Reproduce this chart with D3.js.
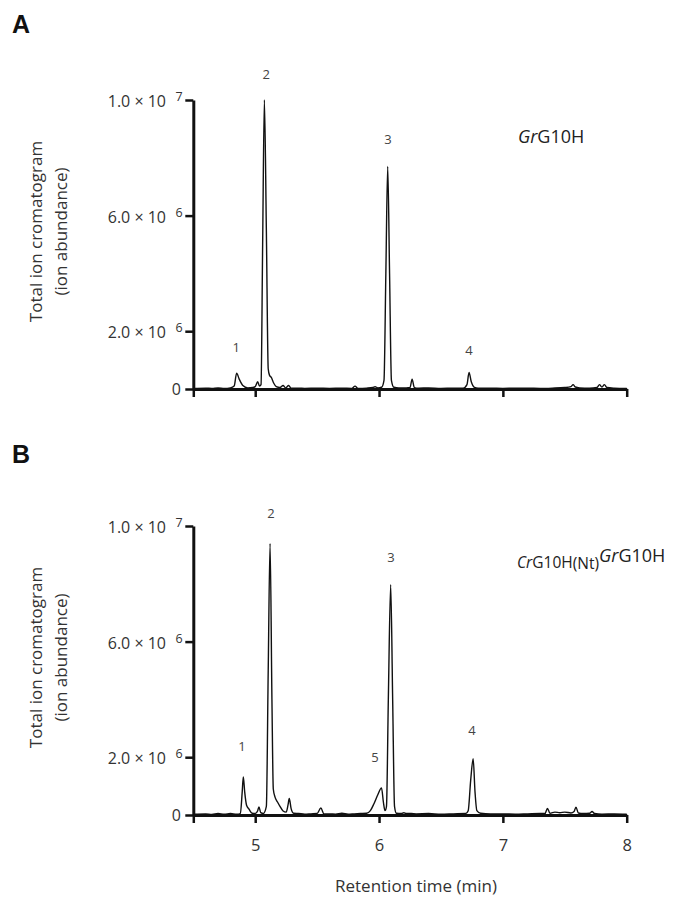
<!DOCTYPE html>
<html><head><meta charset="utf-8">
<script src="https://cdn.jsdelivr.net/npm/d3@7"></script>
<style>body{margin:0;background:#fff}svg{display:block}</style>
</head><body>
<script>
// ---- Data (abundance in units of 10^6) ----
const timeA = [4.50,4.60,4.65,4.70,4.75,4.80,4.83,4.85,4.87,4.90,4.94,4.98,5.00,5.02,5.035,5.047,5.06,5.074,5.09,5.105,5.115,5.13,5.15,5.17,5.20,5.225,5.245,5.27,5.29,5.35,5.40,5.50,5.60,5.70,5.78,5.806,5.83,5.90,5.95,5.968,5.99,6.02,6.04,6.055,6.070,6.085,6.10,6.12,6.16,6.22,6.25,6.267,6.285,6.32,6.40,6.50,6.60,6.68,6.71,6.727,6.745,6.77,6.80,6.90,7.00,7.10,7.20,7.30,7.40,7.50,7.55,7.567,7.585,7.62,7.70,7.76,7.78,7.80,7.82,7.84,7.90,8.00];
const abundA = [0.02,0.03,0.02,0.04,0.02,0.04,0.10,0.55,0.35,0.12,0.04,0.05,0.08,0.25,0.10,0.15,5.0,10.0,5.5,0.70,0.48,0.40,0.20,0.08,0.05,0.12,0.04,0.12,0.03,0.03,0.02,0.03,0.02,0.03,0.02,0.10,0.02,0.03,0.05,0.08,0.04,0.06,0.30,4.0,7.7,4.0,0.30,0.06,0.04,0.04,0.05,0.34,0.05,0.03,0.04,0.02,0.03,0.03,0.15,0.57,0.25,0.06,0.03,0.03,0.02,0.03,0.03,0.02,0.03,0.05,0.08,0.15,0.07,0.04,0.03,0.05,0.15,0.07,0.15,0.05,0.03,0.02];
const timeB = [4.50,4.60,4.65,4.70,4.75,4.80,4.85,4.88,4.895,4.904,4.915,4.93,4.95,4.975,5.00,5.02,5.03,5.045,5.065,5.09,5.105,5.12,5.135,5.146,5.16,5.18,5.20,5.225,5.25,5.265,5.275,5.29,5.31,5.35,5.40,5.45,5.50,5.53,5.555,5.60,5.65,5.70,5.75,5.80,5.85,5.90,5.93,5.96,5.99,6.02,6.035,6.048,6.06,6.075,6.094,6.11,6.125,6.14,6.18,6.20,6.22,6.26,6.30,6.40,6.50,6.60,6.70,6.72,6.74,6.76,6.775,6.79,6.82,6.90,7.00,7.10,7.20,7.30,7.34,7.36,7.38,7.42,7.46,7.50,7.55,7.575,7.59,7.61,7.65,7.70,7.72,7.74,7.80,7.90,8.00];
const abundB = [0.03,0.04,0.02,0.05,0.03,0.05,0.03,0.05,0.8,1.32,0.8,0.34,0.20,0.06,0.05,0.15,0.28,0.08,0.05,0.3,5.0,9.39,4.0,0.9,0.62,0.45,0.30,0.14,0.10,0.35,0.57,0.22,0.06,0.05,0.03,0.04,0.05,0.24,0.04,0.04,0.03,0.06,0.03,0.04,0.05,0.06,0.15,0.40,0.70,0.94,0.45,0.15,0.3,4.0,7.97,4.0,0.3,0.06,0.05,0.08,0.05,0.05,0.04,0.05,0.03,0.04,0.05,0.15,1.2,1.95,0.8,0.15,0.06,0.04,0.04,0.03,0.04,0.05,0.05,0.23,0.06,0.10,0.08,0.10,0.07,0.12,0.27,0.07,0.05,0.06,0.12,0.05,0.03,0.04,0.03];

const xTicks = [4.5, 5, 6, 7, 8];
const xTickLabels = ["", "5", "6", "7", "8"];
const yTicks = [0, 2e6, 6e6, 1e7];
const yMantissa = ["0", "2.0", "6.0", "1.0"];
const yExponent = ["", "6", "6", "7"];

const peakNumsA = ["1", "2", "3", "4"];
const peakTimeA = [4.846, 5.088, 6.073, 6.727];
const peakLabelValA = [1.29e6, 10.74e6, 8.49e6, 1.16e6];
const peakNumsB = ["1", "2", "5", "3", "4"];
const peakTimeB = [4.893, 5.128, 5.967, 6.097, 6.751];
const peakLabelValB = [2.23e6, 10.29e6, 1.85e6, 8.77e6, 2.78e6];

const xTitle = "Retention time (min)";
const yTitle1 = "Total ion cromatogram";
const yTitle2 = "(ion abundance)";

// ---- Layout ----
const W = 675, H = 904;
const FONT = "'Open Sans', 'DejaVu Sans', sans-serif";
const svg = d3.select("body").append("svg").attr("width", W).attr("height", H)
  .style("font-family", FONT);

const x = d3.scaleLinear().domain([4.5, 8]).range([193.3, 626.7]);

const panels = [
  {letter: "A", letterY: 33, top: 100, bottom: 389, time: timeA, abund: abundA,
   nums: peakNumsA, pt: peakTimeA, pv: peakLabelValA, showX: false},
  {letter: "B", letterY: 463, top: 526, bottom: 815, time: timeB, abund: abundB,
   nums: peakNumsB, pt: peakTimeB, pv: peakLabelValB, showX: true}
];

panels.forEach((p, pi) => {
  const y = d3.scaleLinear().domain([0, 1e7]).range([p.bottom, p.top]);
  const g = svg.append("g");

  // panel letter
  g.append("text").attr("x", 12).attr("y", p.letterY).text(p.letter)
    .attr("font-size", 25).attr("font-weight", "bold").attr("fill", "#111")
    .style("font-family", "'Liberation Sans', Arial, sans-serif");

  // trace
  const pts = p.time.map((t, i) => [t, p.abund[i] * 1e6]);
  g.append("path").datum(pts)
    .attr("d", d3.line().x(d => x(d[0])).y(d => y(d[1])).curve(d3.curveMonotoneX))
    .attr("fill", "none").attr("stroke", "#111").attr("stroke-width", 1.4)
    .attr("stroke-linejoin", "round");

  // y axis
  const ya = g.append("g").attr("transform", `translate(${x(4.5)},0)`)
    .call(d3.axisLeft(y).tickValues(yTicks).tickSize(8).tickSizeOuter(0).tickFormat(""));
  ya.select(".domain").attr("stroke", "#111").attr("stroke-width", 3);
  ya.selectAll(".tick line").attr("stroke", "#111").attr("stroke-width", 2.5);

  // x axis
  const xa = g.append("g").attr("transform", `translate(0,${p.bottom})`)
    .call(d3.axisBottom(x).tickValues(xTicks).tickSize(8).tickSizeOuter(0)
      .tickFormat((d, i) => p.showX ? xTickLabels[i] : ""));
  xa.select(".domain").attr("stroke", "#111").attr("stroke-width", 3);
  xa.selectAll(".tick line").attr("stroke", "#111").attr("stroke-width", 2.5);
  xa.selectAll(".tick text").attr("font-size", 16.5).attr("fill", "#333")
    .attr("font-family", FONT).attr("dy", "1.5em");

  // y tick labels with superscript exponents
  yTicks.forEach((v, i) => {
    const yy = y(v);
    if (yExponent[i] === "") {
      g.append("text").attr("x", 181).attr("y", yy + 5.5).attr("text-anchor", "end")
        .attr("font-size", 16).attr("fill", "#333").text(yMantissa[i]);
    } else {
      g.append("text").attr("x", 166).attr("y", yy + 7).attr("text-anchor", "end")
        .attr("font-size", 16).attr("fill", "#333").text(yMantissa[i] + " × 10");
      g.append("text").attr("x", 175.5).attr("y", yy + 1)
        .attr("font-size", 12.5).attr("fill", "#333").text(yExponent[i]);
    }
  });

  // y title
  const cy = (p.top + p.bottom) / 2 - 13;
  g.append("text").attr("transform", `translate(42,${cy}) rotate(-90)`)
    .attr("text-anchor", "middle").attr("font-size", 17).attr("fill", "#333").text(yTitle1);
  g.append("text").attr("transform", `translate(67,${cy}) rotate(-90)`)
    .attr("text-anchor", "middle").attr("font-size", 17).attr("fill", "#333").text(yTitle2);

  // peak numbers
  p.nums.forEach((n, i) => {
    g.append("text").attr("x", x(p.pt[i])).attr("y", y(p.pv[i]))
      .attr("text-anchor", "middle").attr("font-size", 13).attr("fill", "#444").text(n);
  });

  // sample labels
  if (pi === 0) {
    const t = g.append("text").attr("x", 518).attr("y", 143).attr("font-size", 18).attr("fill", "#222");
    t.append("tspan").attr("font-style", "italic").text("Gr");
    t.append("tspan").text("G10H");
  } else {
    const t = g.append("text").attr("x", 517).attr("y", 568).attr("fill", "#222");
    t.append("tspan").attr("font-size", 15.5).attr("font-style", "italic").text("Cr");
    t.append("tspan").attr("font-size", 15.5).text("G10H");
    t.append("tspan").attr("font-size", 15.5).attr("dy", 1).text("(Nt)");
    t.append("tspan").attr("font-size", 18).attr("dy", -7).attr("font-style", "italic").text("Gr");
    t.append("tspan").attr("font-size", 18).text("G10H");
  }
});

// x title
svg.append("text").attr("x", 416).attr("y", 892).attr("text-anchor", "middle")
  .attr("font-size", 17).attr("fill", "#333").text(xTitle);
</script>
</body></html>
